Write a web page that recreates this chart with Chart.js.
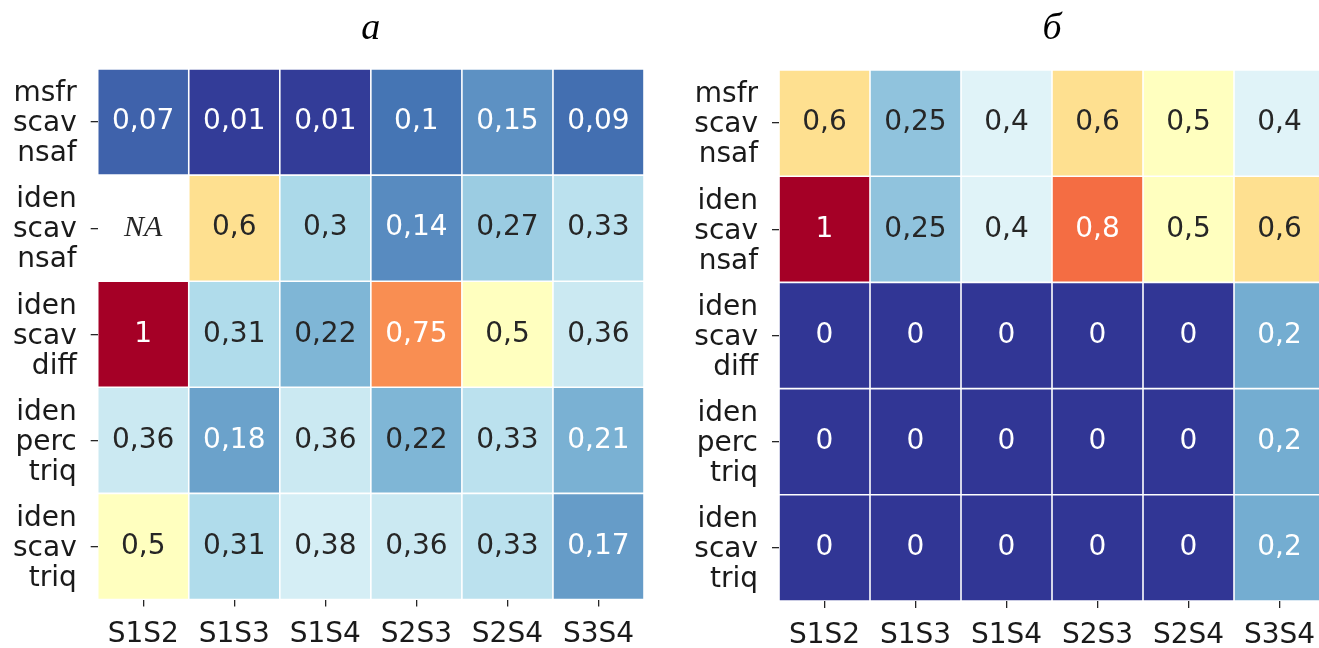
<!DOCTYPE html>
<html>
<head>
<meta charset="utf-8">
<script src="https://cdn.jsdelivr.net/npm/chart.js@4/dist/chart.umd.min.js"></script>
<style>
  html, body { margin: 0; padding: 0; background: #ffffff; overflow: hidden; }
  #wrap { position: relative; width: 1319px; height: 648px; overflow: hidden; background: #ffffff; }
  canvas { position: absolute; top: 0; }
</style>
</head>
<body>
<div id="wrap">
  <canvas id="heatA" width="660" height="648" style="left:0px"></canvas>
  <canvas id="heatB" width="680" height="648" style="left:660px"></canvas>
</div>
<script>
// Pairwise comparisons (columns)
const pairs = ['S1S2', 'S1S3', 'S1S4', 'S2S3', 'S2S4', 'S3S4'];

// Pipeline variants (rows), each drawn as a three-line tick label
const rowLabels = [
  ['msfr', 'scav', 'nsaf'],
  ['iden', 'scav', 'nsaf'],
  ['iden', 'scav', 'diff'],
  ['iden', 'perc', 'triq'],
  ['iden', 'scav', 'triq']
];

// Panel titles
const titleA = 'а';
const titleB = 'б';

// Panel а values, one list per row (null = NA)
const aMsfrScavNsaf = [0.07, 0.01, 0.01, 0.1, 0.15, 0.09];
const aIdenScavNsaf = [null, 0.6, 0.3, 0.14, 0.27, 0.33];
const aIdenScavDiff = [1, 0.31, 0.22, 0.75, 0.5, 0.36];
const aIdenPercTriq = [0.36, 0.18, 0.36, 0.22, 0.33, 0.21];
const aIdenScavTriq = [0.5, 0.31, 0.38, 0.36, 0.33, 0.17];

// Panel б values, one list per row
const bMsfrScavNsaf = [0.6, 0.25, 0.4, 0.6, 0.5, 0.4];
const bIdenScavNsaf = [1, 0.25, 0.4, 0.8, 0.5, 0.6];
const bIdenScavDiff = [0, 0, 0, 0, 0, 0.2];
const bIdenPercTriq = [0, 0, 0, 0, 0, 0.2];
const bIdenScavTriq = [0, 0, 0, 0, 0, 0.2];

const valuesA = [aMsfrScavNsaf, aIdenScavNsaf, aIdenScavDiff, aIdenPercTriq, aIdenScavTriq];
const valuesB = [bMsfrScavNsaf, bIdenScavNsaf, bIdenScavDiff, bIdenPercTriq, bIdenScavTriq];

// Reversed RdYlBu colour map, 0 -> blue, 1 -> red
const rdylbuR = ['#313695', '#4575b4', '#74add1', '#abd9e9', '#e0f3f8', '#ffffbf',
                 '#fee090', '#fdae61', '#f46d43', '#d73027', '#a50026'];

function hexToRgb(h) {
  const n = parseInt(h.slice(1), 16);
  return [(n >> 16) & 255, (n >> 8) & 255, n & 255];
}
const anchors = rdylbuR.map(hexToRgb);

function cmap(t) {
  t = Math.max(0, Math.min(1, t));
  const s = t * (anchors.length - 1);
  const i = Math.min(anchors.length - 2, Math.floor(s));
  const f = s - i;
  const a = anchors[i], b = anchors[i + 1];
  return [0, 1, 2].map(k => a[k] + (b[k] - a[k]) * f);
}
function css(rgb) {
  return 'rgb(' + rgb.map(v => Math.round(v)).join(',') + ')';
}
function luminance(rgb) {
  const lin = rgb.map(v => {
    const c = v / 255;
    return c <= 0.03928 ? c / 12.92 : Math.pow((c + 0.055) / 1.055, 2.4);
  });
  return 0.2126 * lin[0] + 0.7152 * lin[1] + 0.0722 * lin[2];
}
function fmt(v) {
  return String(v).replace('.', ',');
}

const sansFamily = '"DejaVu Sans", sans-serif';
const serifFamily = '"Liberation Serif", "DejaVu Serif", serif';
const darkText = '#262626';

// Annotates each cell with its value and puts the panel letter above the grid
const cellText = {
  id: 'cellText',
  afterDatasetsDraw(chart, args, opts) {
    const { ctx, chartArea } = chart;
    const xs = chart.scales.x, ys = chart.scales.y;
    ctx.save();
    ctx.textAlign = 'center';
    ctx.textBaseline = 'middle';
    opts.values.forEach((row, i) => {
      row.forEach((v, j) => {
        const px = xs.getPixelForValue(j);
        const py = ys.getPixelForValue(i + 0.5) + opts.textShift;
        if (v === null) {
          ctx.font = 'italic 30px ' + serifFamily;
          ctx.fillStyle = darkText;
          ctx.fillText('NA', px, py);
          return;
        }
        ctx.font = '28px ' + sansFamily;
        ctx.fillStyle = luminance(cmap(v)) > 0.408 ? darkText : '#ffffff';
        ctx.fillText(fmt(v), px, py);
      });
    });
    ctx.font = 'italic 38px ' + serifFamily;
    ctx.fillStyle = '#000000';
    ctx.textBaseline = 'alphabetic';
    ctx.fillText(opts.title, (chartArea.left + chartArea.right) / 2, 39);
    ctx.restore();
  }
};

function makeHeatmap(canvasId, values, title, geom) {
  const datasets = values.map((row, i) => ({
    label: rowLabels[i].join(' '),
    data: row.map(v => (v === null ? null : [i, i + 1])),
    backgroundColor: row.map(v => (v === null ? 'rgba(0,0,0,0)' : css(cmap(v)))),
    borderColor: '#ffffff',
    borderWidth: 0.8,
    borderSkipped: false,
    inflateAmount: 0,
    barPercentage: 1,
    categoryPercentage: 1
  }));

  const tickGrid = {
    drawOnChartArea: false,
    drawTicks: true,
    tickLength: 7,
    tickWidth: 1.3,
    color: darkText,
    tickColor: darkText,
    lineWidth: 1.3
  };

  return new Chart(document.getElementById(canvasId), {
    type: 'bar',
    data: { labels: pairs, datasets },
    plugins: [cellText],
    options: {
      responsive: false,
      animation: false,
      events: [],
      layout: { padding: { left: 0, top: geom.top, right: geom.right, bottom: 0 } },
      plugins: {
        legend: { display: false },
        tooltip: { enabled: false },
        title: { display: false },
        cellText: { values, title, textShift: 0 }
      },
      scales: {
        x: {
          type: 'category',
          stacked: true,
          offset: true,
          grid: Object.assign({ offset: false }, tickGrid),
          border: { display: false },
          ticks: {
            color: '#1a1a1a',
            font: { family: sansFamily, size: 28 },
            padding: 11,
            maxRotation: 0,
            autoSkip: false
          },
          afterFit(scale) {
            scale.height = geom.xh;
            scale.paddingLeft = 0;
            scale.paddingRight = 0;
          }
        },
        y: {
          type: 'linear',
          min: 0,
          max: rowLabels.length,
          reverse: true,
          stacked: false,
          grid: tickGrid,
          border: { display: false },
          afterBuildTicks(scale) {
            scale.ticks = rowLabels.map((_, i) => ({ value: i + 0.5 }));
          },
          ticks: {
            color: '#1a1a1a',
            font: { family: sansFamily, size: 28, lineHeight: 30 / 28 },
            padding: 14,
            labelOffset: 2,
            autoSkip: false,
            callback: (value, index) => rowLabels[index]
          },
          afterFit(scale) {
            scale.width = geom.yw;
            scale.paddingTop = 0;
            scale.paddingBottom = 0;
          }
        }
      }
    }
  });
}

makeHeatmap('heatA', valuesA, titleA, { top: 69, right: 16, xh: 48.5, yw: 97.7 });
makeHeatmap('heatB', valuesB, titleB, { top: 70, right: 15, xh: 47, yw: 119 });
</script>
</body>
</html>
